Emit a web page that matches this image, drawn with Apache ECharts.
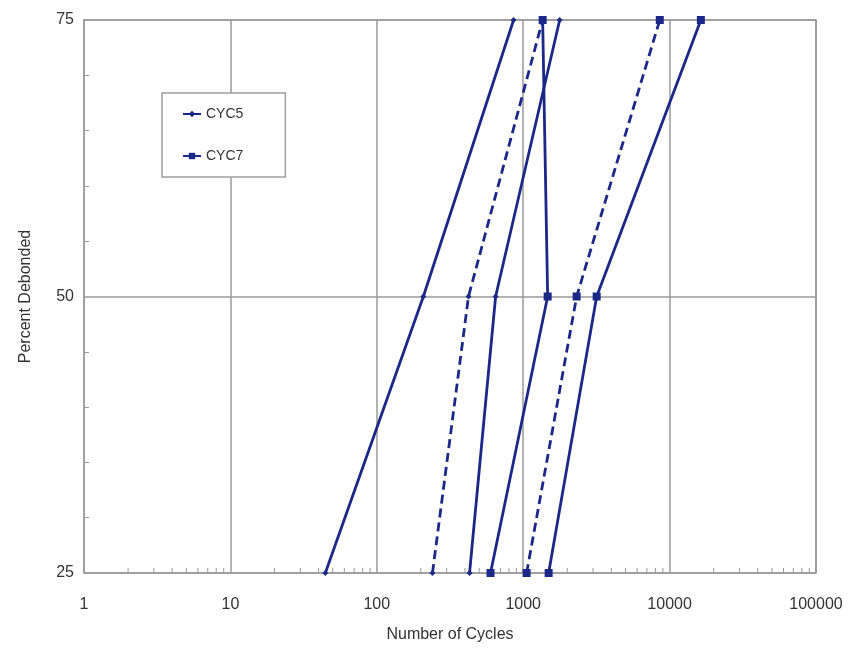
<!DOCTYPE html>
<html>
<head>
<meta charset="utf-8">
<script src="https://cdn.jsdelivr.net/npm/echarts@6/dist/echarts.min.js"></script>
<style>
	html, body { margin: 0; padding: 0; background: #fff; }
	#main { width: 865px; height: 652px; }
</style>
</head>
<body>
<div id="main"></div>
<script>
// percent debonded levels
var pct = [25, 50, 75];
// cycles to reach each level
var cyc5Solid1 = [44.5, 208, 860];
var cyc5Dash = [240, 423, 1358];
var cyc5Solid2 = [430, 648, 1775];
var cyc7Solid1 = [598, 1469, 1358];
var cyc7Dash = [1055, 2318, 8570];
var cyc7Solid2 = [1492, 3176, 16350];
// log axis minor ticks
var decades = [1, 10, 100, 1000, 10000];
var minorSteps = [2, 3, 4, 5, 6, 7, 8, 9];

var lineColor = '#1c2888';
var font = 'Liberation Sans';

function pairs(xs) {
	return xs.map(function(x, i) { return [x, pct[i]]; });
}

function lineSeries(name, xs, dashed, symbol, size) {
	return {
		name: name,
		type: 'line',
		data: pairs(xs),
		symbol: symbol,
		symbolSize: size,
		color: lineColor,
		lineStyle: {
			color: lineColor,
			width: 2.8,
			type: dashed ? [9, 5] : 'solid'
		},
		itemStyle: { color: lineColor },
		emphasis: { disabled: true },
		z: 5
	};
}

var minorData = [];
decades.forEach(function(d) {
	minorSteps.forEach(function(m) { minorData.push([d * m]); });
});

var option = {
	animation: false,
	textStyle: { fontFamily: font },
	grid: {
		left: 84,
		right: 49,
		top: 20,
		bottom: 79,
		show: true,
		borderColor: '#9a9a9a',
		borderWidth: 1.5,
		backgroundColor: '#fff'
	},
	legend: {
		left: 162,
		top: 93,
		orient: 'vertical',
		data: ['CYC5', 'CYC7'],
		backgroundColor: '#fff',
		borderColor: '#a0a0a0',
		borderWidth: 1.5,
		padding: [14, 42, 14, 20],
		itemGap: 28,
		itemWidth: 18,
		itemHeight: 8,
		textStyle: { color: '#333', fontSize: 14, fontFamily: font }
	},
	xAxis: {
		type: 'log',
		logBase: 10,
		min: 1,
		max: 100000,
		name: 'Number of Cycles',
		nameLocation: 'middle',
		nameGap: 54,
		nameTextStyle: { color: '#333', fontSize: 16 },
		axisLine: { show: false },
		axisTick: { show: false },
		axisLabel: {
			color: '#333',
			fontSize: 16,
			margin: 24,
			formatter: function(v) { return String(Math.round(v)); }
		},
		splitLine: { show: true, lineStyle: { color: '#9a9a9a', width: 1.5 } }
	},
	yAxis: {
		type: 'value',
		min: 25,
		max: 75,
		interval: 25,
		name: 'Percent Debonded',
		nameLocation: 'middle',
		nameGap: 50,
		nameTextStyle: { color: '#333', fontSize: 16 },
		axisLine: { show: false },
		axisTick: { show: false, inside: true },
		minorTick: {
			show: true,
			splitNumber: 5,
			length: 5,
			lineStyle: { color: '#9a9a9a', width: 1 }
		},
		axisLabel: { color: '#333', fontSize: 16, margin: 10 },
		splitLine: { show: true, lineStyle: { color: '#9a9a9a', width: 1.5 } }
	},
	series: [
		lineSeries('CYC5', cyc5Solid1, false, 'diamond', 6),
		lineSeries('CYC5', cyc5Dash, true, 'diamond', 6),
		lineSeries('CYC5', cyc5Solid2, false, 'diamond', 6),
		lineSeries('CYC7', cyc7Solid1, false, 'rect', 8),
		lineSeries('CYC7', cyc7Dash, true, 'rect', 8),
		lineSeries('CYC7', cyc7Solid2, false, 'rect', 8),
		{
			type: 'custom',
			silent: true,
			data: minorData,
			z: 1,
			renderItem: function(params, api) {
				var p = api.coord([api.value(0), pct[0]]);
				return {
					type: 'line',
					shape: { x1: p[0], y1: p[1], x2: p[0], y2: p[1] - 5 },
					style: { stroke: '#9a9a9a', lineWidth: 1 }
				};
			}
		}
	]
};

var myChart = echarts.init(document.getElementById('main'));
myChart.setOption(option);
</script>
</body>
</html>
